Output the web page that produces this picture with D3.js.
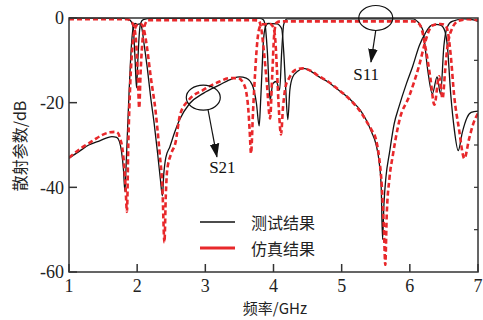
<!DOCTYPE html>
<html><head><meta charset="utf-8">
<script src="https://cdn.jsdelivr.net/npm/d3@7"></script>
<style>
html,body{margin:0;padding:0;background:#fff;}
svg{display:block;}
</style></head>
<body>
<svg id="chart" width="483" height="320"></svg>
<script>
// ---------- data (frequency GHz, dB) ----------
const s21Measured = [[1.00,-33.1],[1.15,-31.5],[1.29,-30.0],[1.45,-29.0],[1.63,-28.0],[1.70,-28.2],[1.74,-29.2],[1.77,-31.5],[1.80,-36],[1.82,-41],[1.84,-34],[1.86,-26],[1.88,-18],[1.90,-11],[1.92,-5.5],[1.94,-2.5],[1.97,-1.3],[2.00,-1.5],[2.04,-1.4],[2.07,-2.5],[2.10,-6],[2.15,-12],[2.20,-19],[2.25,-25],[2.30,-32],[2.34,-38],[2.37,-42],[2.39,-37],[2.42,-33],[2.48,-30.4],[2.55,-27],[2.62,-24.1],[2.77,-20.2],[2.97,-17.8],[3.21,-15.8],[3.40,-14.3],[3.50,-13.9],[3.60,-14.2],[3.66,-15],[3.70,-16.3],[3.75,-20.2],[3.79,-25.5],[3.81,-20],[3.83,-13],[3.85,-6],[3.88,-2.2],[3.92,-1.3],[4.05,-1.4],[4.12,-2.5],[4.15,-8],[4.18,-17],[4.21,-24],[4.24,-17],[4.28,-14],[4.36,-12.5],[4.44,-11.9],[4.55,-12.6],[4.67,-13.9],[4.80,-15.1],[4.92,-16.6],[5.05,-18.2],[5.16,-19.8],[5.27,-21.7],[5.36,-24.1],[5.44,-27],[5.50,-29.6],[5.55,-34],[5.58,-40],[5.60,-52.3],[5.62,-44],[5.65,-37.5],[5.70,-32],[5.77,-25],[5.84,-21],[5.95,-15.5],[6.04,-11.5],[6.14,-6.5],[6.23,-3.5],[6.31,-1.8],[6.38,-1.5],[6.45,-1.7],[6.50,-2.5],[6.55,-6.5],[6.60,-18],[6.65,-26],[6.71,-31.3],[6.77,-27],[6.84,-23.5],[6.90,-22.3],[7.00,-22]];

const s21Simulated = [[1.00,-33],[1.20,-30.5],[1.35,-29],[1.49,-27.6],[1.60,-27],[1.68,-26.9],[1.72,-27.2],[1.75,-28.5],[1.78,-30.5],[1.81,-35],[1.83,-40],[1.85,-45.8],[1.87,-30],[1.90,-15],[1.93,-7],[1.96,-3],[2.00,-1.6],[2.05,-1.4],[2.08,-1.8],[2.11,-3.5],[2.14,-6.5],[2.20,-14],[2.27,-22],[2.33,-32],[2.37,-40],[2.40,-53],[2.42,-42],[2.44,-36],[2.50,-32],[2.56,-29.6],[2.63,-22.8],[2.75,-19.5],[2.97,-17],[3.21,-15],[3.36,-14.2],[3.48,-14.2],[3.55,-15.2],[3.60,-17.5],[3.63,-21.5],[3.65,-26.5],[3.67,-32],[3.70,-22],[3.73,-13],[3.76,-6],[3.79,-2.5],[3.83,-1.5],[3.95,-1.4],[3.99,-2],[4.02,-4],[4.05,-12],[4.08,-22],[4.11,-27.5],[4.14,-21],[4.18,-16],[4.22,-14.5],[4.31,-12.4],[4.43,-11.9],[4.55,-12.5],[4.67,-13.8],[4.80,-15],[4.92,-16.5],[5.05,-18.2],[5.16,-19.9],[5.27,-22],[5.36,-24.3],[5.44,-26.5],[5.50,-28.5],[5.55,-33],[5.59,-40],[5.62,-50],[5.64,-58.3],[5.66,-47],[5.70,-38],[5.75,-32.5],[5.85,-24],[5.99,-18.5],[6.14,-11],[6.22,-6],[6.28,-3],[6.34,-1.7],[6.45,-1.4],[6.52,-1.7],[6.56,-3.5],[6.60,-8.8],[6.65,-18.3],[6.72,-26.1],[6.80,-33.2],[6.87,-28.5],[6.93,-25],[7.00,-22.5]];

const s11Measured = [[1.00,0],[1.80,-0.1],[1.86,-0.3],[1.90,-0.6],[1.93,-1.5],[1.95,-4],[1.97,-10],[1.99,-16.5],[2.01,-10],[2.03,-4],[2.05,-1.3],[2.09,-0.4],[2.20,-0.1],[3.80,-0.1],[3.85,-0.4],[3.88,-2],[3.91,-8],[3.95,-19.4],[3.99,-15.5],[4.04,-15],[4.09,-17],[4.12,-8],[4.15,-1.5],[4.20,-0.2],[6.05,-0.2],[6.11,-0.8],[6.19,-2.8],[6.26,-12],[6.33,-17.9],[6.40,-13.9],[6.45,-18],[6.50,-6.5],[6.55,-2.1],[6.62,-0.8],[6.80,-0.2],[6.95,-0.5],[7.00,-0.8]];

const s11Simulated = [[1.00,-0.3],[1.85,-0.3],[1.92,-1],[1.96,-2.5],[1.99,-7],[2.01,-14],[2.03,-21.3],[2.05,-13],[2.08,-5],[2.11,-1.8],[2.16,-0.5],[2.30,-0.5],[3.70,-0.5],[3.78,-0.6],[3.82,-2.5],[3.86,-8],[3.90,-15],[3.95,-23.7],[3.98,-14],[4.01,-4],[4.04,-1.2],[4.10,-0.8],[6.05,-0.8],[6.10,-1],[6.16,-2],[6.23,-7],[6.30,-14],[6.36,-20.5],[6.43,-13.8],[6.48,-19],[6.52,-12],[6.55,-7],[6.62,-2.5],[6.71,-0.7],[6.85,-0.3],[7.00,-0.5]];

const xTicks = [1,2,3,4,5,6,7];
const yTicksLeft = [0,-20,-40,-60];
const yTicksRight = [-10,-20,-30,-40,-50];
const legendLabels = ["测试结果","仿真结果"];
const xTitle = "频率/GHz";
const yTitle = "散射参数/dB";
// annotations in data units: ellipse centre, arrow start, arrow tip, label anchor
const annS21 = {label:"S21", cf:2.97, cdb:-18.8, af:3.04, adb:-21.7, tf:3.17, tdb:-32.8, lf:3.25, ldb:-36.6};
const annS11 = {label:"S11", cf:5.50, cdb:0.0, af:5.50, adb:-3.0, tf:5.43, tdb:-10.4, lf:5.36, ldb:-14.6};

// ---------- drawing ----------
const svg = d3.select("#chart");
const L = 69, R = 478, T = 18, B = 272;
const x = d3.scaleLinear().domain([1,7]).range([L,R]);
const y = d3.scaleLinear().domain([-60,0]).range([B,T]);
const serif = "'Liberation Serif','Times New Roman',serif";
const cjk = "'Noto Sans CJK SC','Noto Sans CJK JP',sans-serif";
const axisColor = "#333";
const red = "#e8282b";

svg.append("defs").append("clipPath").attr("id","clip")
  .append("rect").attr("x",L).attr("y",T-3).attr("width",R-L).attr("height",B-T+3);
const marker = svg.select("defs").append("marker").attr("id","arrow")
  .attr("markerUnits","userSpaceOnUse").attr("markerWidth",14).attr("markerHeight",16)
  .attr("viewBox","0 -6 16 12").attr("refX",15).attr("refY",0).attr("orient","auto");
marker.append("path").attr("d","M0,-5.5L16,0L0,5.5Z").attr("fill","#111");

const line = d3.line().x(d=>x(d[0])).y(d=>y(d[1])).curve(d3.curveMonotoneX);
const g = svg.append("g").attr("clip-path","url(#clip)");

const blackSeries = [s21Measured, s11Measured];
const redSeries = [s21Simulated, s11Simulated];
blackSeries.forEach(s=>g.append("path").datum(s).attr("d",line)
  .attr("fill","none").attr("stroke","#111").attr("stroke-width",1.3));
redSeries.forEach(s=>g.append("path").datum(s).attr("d",line)
  .attr("fill","none").attr("stroke",red).attr("stroke-width",2.6)
  .attr("stroke-dasharray","5,3"));

// frame
svg.append("rect").attr("x",L).attr("y",T).attr("width",R-L).attr("height",B-T)
  .attr("fill","none").attr("stroke",axisColor).attr("stroke-width",1.5);

// bottom axis ticks and labels
const xb = svg.append("g");
xb.selectAll("line").data(xTicks).join("line")
  .attr("x1",d=>x(d)).attr("x2",d=>x(d)).attr("y1",B).attr("y2",B-8)
  .attr("stroke",axisColor).attr("stroke-width",1.5);
xb.selectAll("text").data(xTicks).join("text")
  .attr("x",d=>x(d)).attr("y",B+20).attr("text-anchor","middle")
  .attr("font-family",serif).attr("font-size",18).attr("fill","#222").text(d=>d);

// left axis
const yl = svg.append("g");
yl.selectAll("line").data(yTicksLeft).join("line")
  .attr("x1",L).attr("x2",L+8).attr("y1",d=>y(d)).attr("y2",d=>y(d))
  .attr("stroke",axisColor).attr("stroke-width",1.5);
yl.selectAll("text").data(yTicksLeft).join("text")
  .attr("x",L-5).attr("y",d=>y(d)).attr("dy","0.35em").attr("text-anchor","end")
  .attr("font-family",serif).attr("font-size",18).attr("fill","#222")
  .text(d=>d===0?"0":"-"+Math.abs(d));

// right axis ticks
svg.append("g").selectAll("line").data(yTicksRight).join("line")
  .attr("x1",R).attr("x2",R-4).attr("y1",d=>y(d)).attr("y2",d=>y(d))
  .attr("stroke",axisColor).attr("stroke-width",1.2);

// titles
svg.append("text").attr("x",275).attr("y",314).attr("text-anchor","middle")
  .attr("font-family",cjk).attr("font-size",15).attr("fill","#222").text(xTitle);
svg.append("text").attr("transform","translate(19,146) rotate(-90)")
  .attr("text-anchor","middle").attr("dominant-baseline","central")
  .attr("font-family",cjk).attr("font-size",16).attr("fill","#222").text(yTitle);

// legend
const legend = svg.append("g");
const legendStyles = [{c:"#111",w:1.3},{c:red,w:3}];
legendLabels.forEach((lab,i)=>{
  const ly = 222 + i*26;
  legend.append("line").attr("x1",200).attr("x2",235).attr("y1",ly).attr("y2",ly)
    .attr("stroke",legendStyles[i].c).attr("stroke-width",legendStyles[i].w);
  legend.append("text").attr("x",251).attr("y",ly).attr("dominant-baseline","central")
    .attr("font-family",cjk).attr("font-size",16).attr("fill","#222").text(lab);
});

// annotations
[annS21, annS11].forEach(a=>{
  svg.append("ellipse").attr("cx",x(a.cf)).attr("cy",y(a.cdb))
    .attr("rx",17).attr("ry",12.5)
    .attr("fill","none").attr("stroke","#111").attr("stroke-width",1.2);
  svg.append("line").attr("x1",x(a.af)).attr("y1",y(a.adb)).attr("x2",x(a.tf)).attr("y2",y(a.tdb))
    .attr("stroke","#111").attr("stroke-width",1.2).attr("marker-end","url(#arrow)");
  svg.append("text").attr("x",x(a.lf)).attr("y",y(a.ldb)).attr("text-anchor","middle")
    .attr("font-family",serif).attr("font-size",17).attr("fill","#111").text(a.label);
});
</script>
</body></html>
